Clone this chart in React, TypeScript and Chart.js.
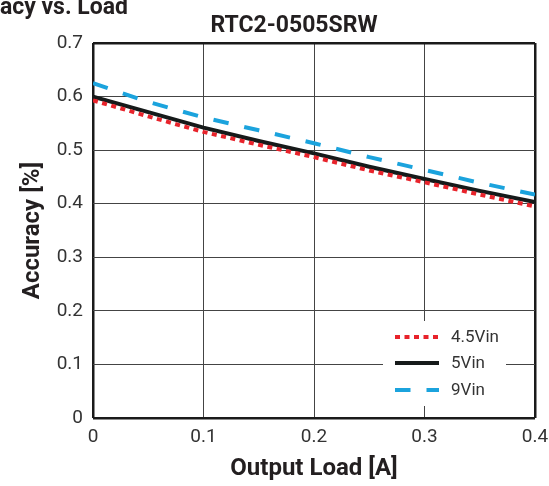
import React, { useEffect, useRef } from "react";
import { Chart, registerables } from "chart.js";

Chart.register(...registerables);

const mainTitle = "Accuracy vs. Load";
const chartTitle = "RTC2-0505SRW";
const xTitle = "Output Load [A]";
const yTitle = "Accuracy [%]";

const loads = [0, 0.05, 0.1, 0.15, 0.2, 0.25, 0.3, 0.35, 0.4];
const acc45Vin = [0.593, 0.563, 0.534, 0.51, 0.487, 0.462, 0.44, 0.417, 0.395];
const acc5Vin = [0.6, 0.571, 0.542, 0.517, 0.494, 0.469, 0.446, 0.424, 0.403];
const acc9Vin = [0.625, 0.59, 0.561, 0.537, 0.513, 0.487, 0.463, 0.439, 0.417];

const seriesLabels = ["4.5Vin", "5Vin", "9Vin"];
const xMin = 0, xMax = 0.4, xStep = 0.1;
const yMin = 0, yMax = 0.7, yStep = 0.1;

const FONT = "Roboto, 'Liberation Sans', sans-serif";

const toPoints = (vals: number[]) => loads.map((x, i) => ({ x, y: vals[i] }));

const fmt = (v: number) => {
  const r = Math.round(v * 10) / 10;
  return r === 0 ? "0" : r.toFixed(1);
};

const isEdge = (v: number, min: number, max: number) =>
  Math.abs(v - min) < 1e-9 || Math.abs(v - max) < 1e-9;
const edgeWidth = (min: number, max: number) => (ctx: any) =>
  ctx.tick && isEdge(ctx.tick.value, min, max) ? 2.5 : 1;
const edgeColor = (min: number, max: number) => (ctx: any) =>
  ctx.tick && isEdge(ctx.tick.value, min, max) ? "#1a1a1a" : "#444";

const titlesPlugin = {
  id: "titlesPlugin",
  afterDraw(chart: any) {
    const { ctx } = chart;
    ctx.save();
    ctx.fillStyle = "#231f20";
    ctx.font = `bold 23px ${FONT}`;
    ctx.textBaseline = "alphabetic";
    ctx.textAlign = "right";
    ctx.fillText(mainTitle, 128, 14);
    ctx.textAlign = "center";
    ctx.fillText(chartTitle, 294, 32);
    ctx.restore();
  },
};

const legendPlugin = {
  id: "insideLegend",
  afterDatasetsDraw(chart: any) {
    const { ctx, chartArea } = chart;
    const r = chartArea.right;
    const b = chartArea.bottom;
    ctx.save();
    ctx.fillStyle = "#ffffff";
    ctx.fillRect(r - 152, b - 97, 123, 85);
    const rows = [b - 81, b - 55, b - 28];
    chart.data.datasets.forEach((ds: any, i: number) => {
      const y = rows[i];
      ctx.beginPath();
      ctx.strokeStyle = ds.borderColor;
      ctx.lineWidth = ds.borderWidth;
      ctx.setLineDash(ds.borderDash || []);
      ctx.lineCap = "butt";
      ctx.moveTo(r - 140, y);
      ctx.lineTo(r - 96, y);
      ctx.stroke();
      ctx.setLineDash([]);
      ctx.fillStyle = "#333";
      ctx.font = `17px ${FONT}`;
      ctx.textAlign = "left";
      ctx.textBaseline = "middle";
      ctx.fillText(ds.label, r - 84, y + 1);
    });
    ctx.restore();
  },
};

export default function App() {
  const ref = useRef<HTMLCanvasElement | null>(null);
  useEffect(() => {
    if (!ref.current) return;
    const chart = new Chart(ref.current, {
      type: "line",
      data: {
        datasets: [
          {
            label: seriesLabels[0],
            data: toPoints(acc45Vin),
            borderColor: "#e8232b",
            borderWidth: 4,
            borderDash: [5, 4.5],
            pointRadius: 0,
            fill: false,
          },
          {
            label: seriesLabels[1],
            data: toPoints(acc5Vin),
            borderColor: "#161a1a",
            borderWidth: 4,
            pointRadius: 0,
            fill: false,
          },
          {
            label: seriesLabels[2],
            data: toPoints(acc9Vin),
            borderColor: "#1ba3dd",
            borderWidth: 4,
            borderDash: [15.5, 16],
            pointRadius: 0,
            fill: false,
          },
        ],
      },
      options: {
        responsive: false,
        animation: false,
        devicePixelRatio: 1,
        layout: { padding: { left: 0, right: 14, top: 43, bottom: 0 } },
        plugins: {
          legend: { display: false },
          title: { display: false },
          tooltip: { enabled: false },
        },
        scales: {
          x: {
            type: "linear",
            min: xMin,
            max: xMax,
            afterFit: (s: any) => {
              s.height = 68;
              s.paddingLeft = 0;
              s.paddingRight = 0;
            },
            ticks: {
              stepSize: xStep,
              padding: 8,
              color: "#333",
              font: { family: FONT, size: 19 },
              callback: (v: any) => fmt(Number(v)),
              maxRotation: 0,
            },
            grid: {
              drawTicks: false,
              color: edgeColor(xMin, xMax),
              lineWidth: edgeWidth(xMin, xMax),
            },
            border: { display: false },
            title: {
              display: true,
              text: xTitle,
              color: "#231f20",
              font: { family: FONT, size: 24, weight: "bold" },
              padding: { top: 0, bottom: 3 },
            },
          },
          y: {
            type: "linear",
            min: yMin,
            max: yMax,
            afterFit: (s: any) => {
              s.width = 93;
              s.paddingTop = 0;
              s.paddingBottom = 0;
            },
            ticks: {
              stepSize: yStep,
              padding: 10,
              color: "#333",
              font: { family: FONT, size: 19 },
              callback: (v: any) => fmt(Number(v)),
            },
            grid: {
              drawTicks: false,
              color: edgeColor(yMin, yMax),
              lineWidth: edgeWidth(yMin, yMax),
            },
            border: { display: false },
            title: {
              display: true,
              text: yTitle,
              color: "#231f20",
              font: { family: FONT, size: 24, weight: "bold" },
              padding: { top: 19, bottom: 0 },
            },
          },
        },
      },
      plugins: [titlesPlugin, legendPlugin],
    } as any);
    return () => chart.destroy();
  }, []);
  return (
    <div style={{ position: "absolute", left: 0, top: 0, width: 549, height: 486, background: "#fff" }}>
      <canvas ref={ref} width={549} height={486} style={{ width: 549, height: 486, display: "block" }} />
    </div>
  );
}
